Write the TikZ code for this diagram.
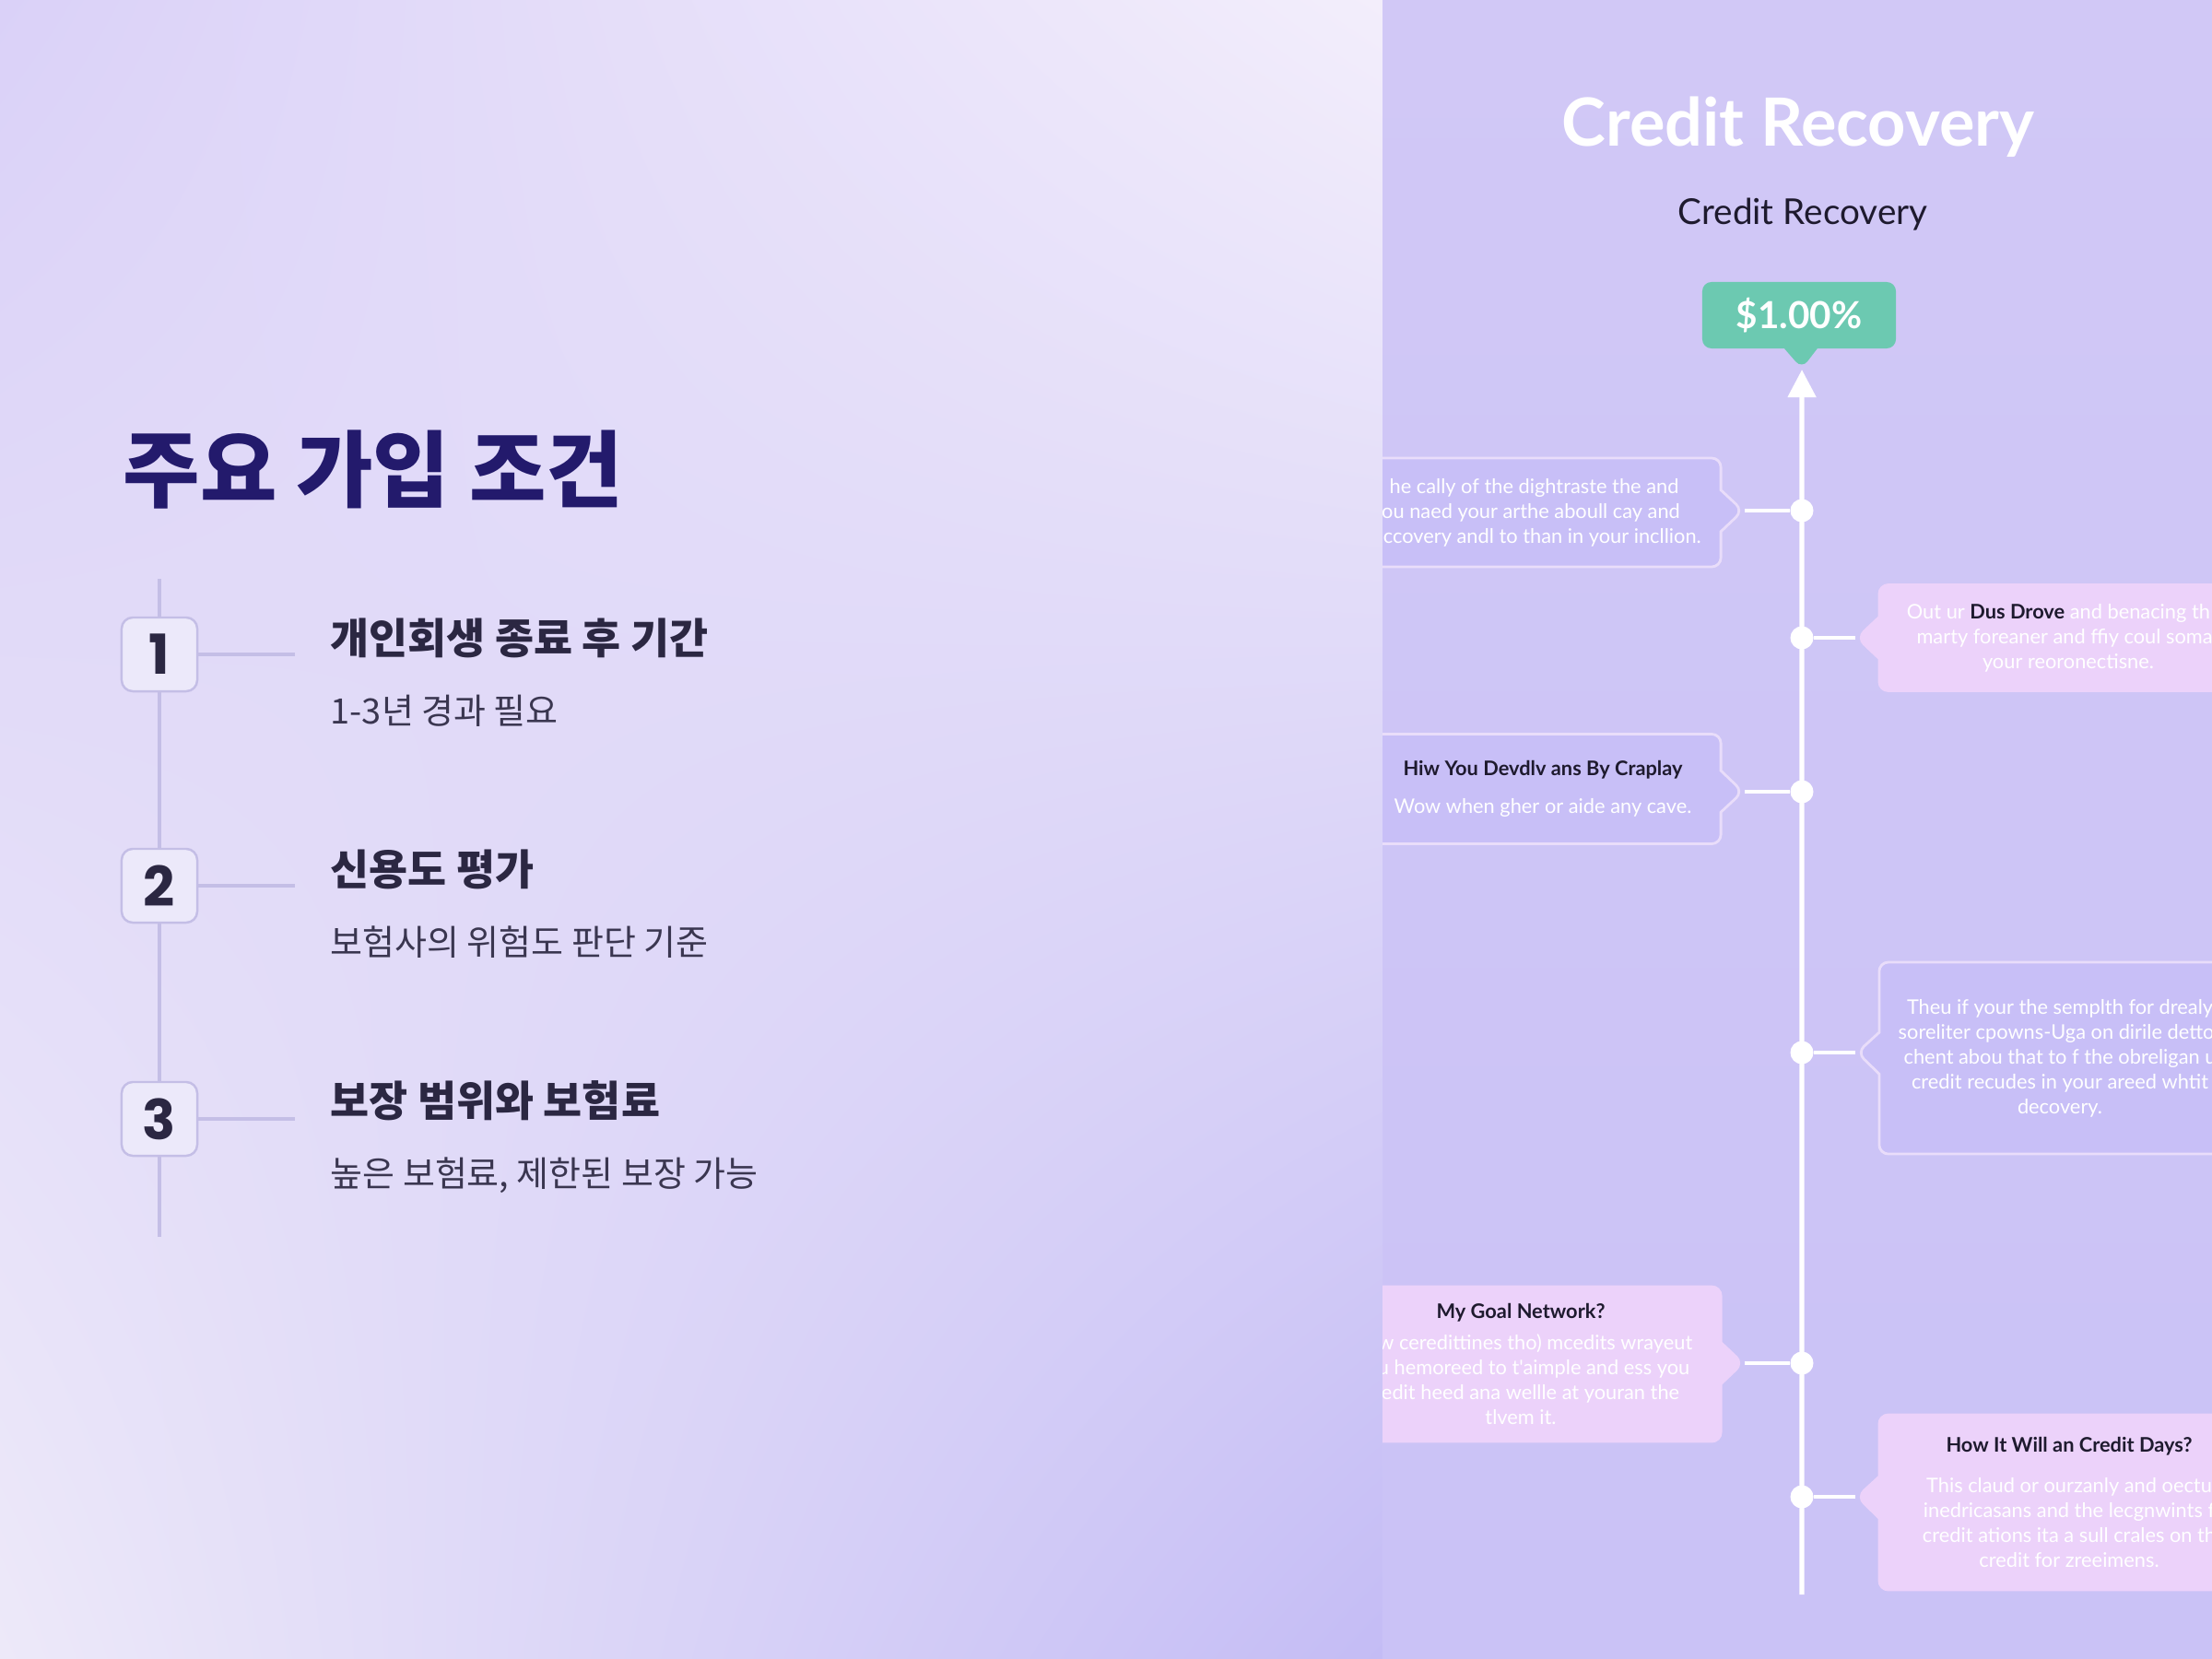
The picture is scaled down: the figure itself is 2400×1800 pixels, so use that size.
\documentclass[tikz,border=0pt]{standalone}
\usepackage{fontspec}
\usepackage{tikz}
\usetikzlibrary{positioning, arrows.meta, calc, shapes.callouts, shadings, fadings}
\newfontfamily\krfont{Noto Sans CJK KR}
\newfontfamily\numfont{Poppins}
\newfontfamily\latfont{Lato}

\definecolor{titlenavy}{HTML}{231A6C}
\definecolor{stepink}{HTML}{2B2742}
\definecolor{subink}{HTML}{3A3650}
\definecolor{railline}{HTML}{C4BEE6}
\definecolor{numfill}{HTML}{ECE9FA}
\definecolor{bgtl}{HTML}{DAD1F8}
\definecolor{bgtr}{HTML}{F3EEFB}
\definecolor{bgbl}{HTML}{EDE9F9}
\definecolor{bgbr}{HTML}{C4BCF5}
\definecolor{paneltop}{HTML}{D1C8F6}
\definecolor{panelfoot}{HTML}{CAC2F6}
\definecolor{lavbox}{HTML}{C8BFF7}
\definecolor{lavedge}{HTML}{E9DDFA}
\definecolor{pinkbox}{HTML}{ECD2FA}
\definecolor{mint}{HTML}{6CC9B1}
\definecolor{boxink}{HTML}{1E1A2E}

\newcommand\notehead[1]{{\color{boxink}\bfseries #1}}

\tikzset{
  numbox/.style={rectangle, rounded corners=0.12cm, draw=railline, line width=0.7pt, fill=numfill, minimum width=0.82cm, minimum height=0.8cm, inner sep=0pt, text=stepink, font=\numfont\bfseries\fontsize{17}{19}\selectfont},
  steptitle/.style={anchor=west, inner sep=0pt, text=stepink, font=\krfont\bfseries\fontsize{13}{15}\selectfont},
  stepsub/.style={anchor=west, inner sep=0pt, text=subink, font=\krfont\fontsize{10.8}{13}\selectfont},
  rail/.style={draw=railline, line width=0.9pt},
  spine/.style={white, line width=1.5pt},
  link/.style={white, line width=1.1pt},
  dot/.style={circle, fill=white, minimum size=0.25cm, inner sep=0pt},
  lavnote/.style={rectangle callout, rounded corners=0.1cm, fill=lavbox, draw=lavedge, line width=0.8pt, callout pointer width=0.45cm, text=white, align=center, inner sep=0pt, font=\latfont\fontsize{6.2}{7.7}\selectfont},
  pinknote/.style={lavnote, fill=pinkbox, draw=pinkbox}
}

\begin{document}
\begin{tikzpicture}[x=0.01cm, y=-0.01cm]
    \useasboundingbox (0,0) rectangle (2400,1800);

    % left panel
    \shade[upper left=bgtl, upper right=bgtr, lower left=bgbl, lower right=bgbr] (0,0) rectangle (1500,1800);

    \node (head) [anchor=west, inner sep=0pt, text=titlenavy, font=\krfont\bfseries\fontsize{25.8}{30}\selectfont] at (133,510) {주요 가입 조건};

    \coordinate (railtop) at (173,628);
    \coordinate (railfoot) at (173,1342);
    \draw[rail] (railtop) -- (railfoot);

    \node (num1) [numbox] at (173,710) {1};
    \node (num2) [numbox] at (173,961) {2};
    \node (num3) [numbox] at (173,1214) {3};
    \coordinate (tick1) at (320,710);
    \coordinate (tick2) at (320,961);
    \coordinate (tick3) at (320,1214);
    \draw[rail] (num1) -- (tick1);
    \draw[rail] (num2) -- (tick2);
    \draw[rail] (num3) -- (tick3);

    \node (step1) [steptitle] at (358,692) {개인회생 종료 후 기간};
    \node (note1) [stepsub] at (358,771) {1-3년 경과 필요};
    \node (step2) [steptitle] at (358,943) {신용도 평가};
    \node (note2) [stepsub] at (358,1022) {보험사의 위험도 판단 기준};
    \node (step3) [steptitle] at (358,1194) {보장 범위와 보험료};
    \node (note3) [stepsub] at (358,1275) {높은 보험료, 제한된 보장 가능};

    % right panel
    \shade[top color=paneltop, bottom color=panelfoot] (1500,0) rectangle (2400,1800);
    \begin{scope}
    \clip (1500,0) rectangle (2400,1800);

    \node (headline) [text=white, font=\latfont\bfseries\fontsize{20.5}{24}\selectfont] at (1951,138) {Credit Recovery};
    \node (subline) [text=boxink, font=\latfont\fontsize{11}{13}\selectfont] at (1956,233) {Credit Recovery};
    \node (rate) [rectangle callout, rounded corners=0.1cm, fill=mint, minimum width=2.1cm, minimum height=0.72cm, callout absolute pointer={(1955,400)}, callout pointer width=0.36cm, text=white, font=\latfont\bfseries\fontsize{11.5}{13}\selectfont] at (1952,342) {\$1.00\%};

    \foreach \y [count=\i] in {554,692,859,1142,1479,1624}
        \node (d\i) [dot] at (1955,\y) {};
    \coordinate (spinefoot) at (1955,1730);
    \draw[spine, -{Triangle[width=0.3cm,length=0.3cm]}] (spinefoot) -- (rate.pointer);

    \node (lnote1) [lavnote, minimum width=4.12cm, minimum height=1.18cm, callout absolute pointer={($(d1)+(-64,0)$)}] at (1661,556)
        {\hspace*{2pt}he cally of the dightraste the and\\ ou naed your arthe aboull cay and\\ \hspace*{7pt}ccovery andl to than in your incllion.};
    \node (rnote1) [pinknote, minimum width=4.1cm, minimum height=1.15cm, callout absolute pointer={($(d2)+(60,0)$)}] at (2244,692)
        {Out ur \notehead{Dus Drove} and benacing th\hspace*{6pt}\\ marty foreaner and ffiy coul somar\hspace*{5pt}\\ your reoronectisne.};
    \node (lnote2) [lavnote, minimum width=3.86cm, minimum height=1.19cm, callout absolute pointer={($(d3)+(-64,0)$)}] at (1674,856)
        {\notehead{Hiw You Devdlv ans By Craplay}\\[4pt] Wow when gher or aide any cave.};
    \node (rnote2) [lavnote, minimum width=3.92cm, minimum height=2.08cm, callout absolute pointer={($(d4)+(60,0)$)}] at (2235,1148)
        {Theu if your the semplth for drealy\\ soreliter cpowns-Uga on dirile dettor\hspace*{2pt}\\ chent abou that to f the obreligan u\hspace*{2pt}\\ credit recudes in your areed whtit\\ decovery.};
    \node (lnote3) [pinknote, minimum width=4.34cm, minimum height=1.68cm, callout absolute pointer={($(d5)+(-64,0)$)}] at (1650,1480)
        {\notehead{My Goal Network?}\\[2pt] \hspace*{9pt}w ceredittines tho) mcedits wrayeut\\ \hspace*{8pt}u hemoreed to t'aimple and ess you\\ \hspace*{6pt}edit heed ana wellle at youran the\\ tlvem it.};
    \node (rnote3) [pinknote, minimum width=4.12cm, minimum height=1.9cm, callout absolute pointer={($(d6)+(60,0)$)}] at (2245,1630)
        {\notehead{How It Will an Credit Days?}\\[5pt] This claud or ourzanly and oectu\hspace*{3pt}\\ inedricasans and the lecgnwints f\hspace*{2pt}\\ credit ations ita a sull crales on th\\ credit for zreeimens.};

    \draw[link] (lnote1.pointer) -- (d1);
    \draw[link] (rnote1.pointer) -- (d2);
    \draw[link] (lnote2.pointer) -- (d3);
    \draw[link] (rnote2.pointer) -- (d4);
    \draw[link] (lnote3.pointer) -- (d5);
    \draw[link] (rnote3.pointer) -- (d6);
    \end{scope}
\end{tikzpicture}
\end{document}
